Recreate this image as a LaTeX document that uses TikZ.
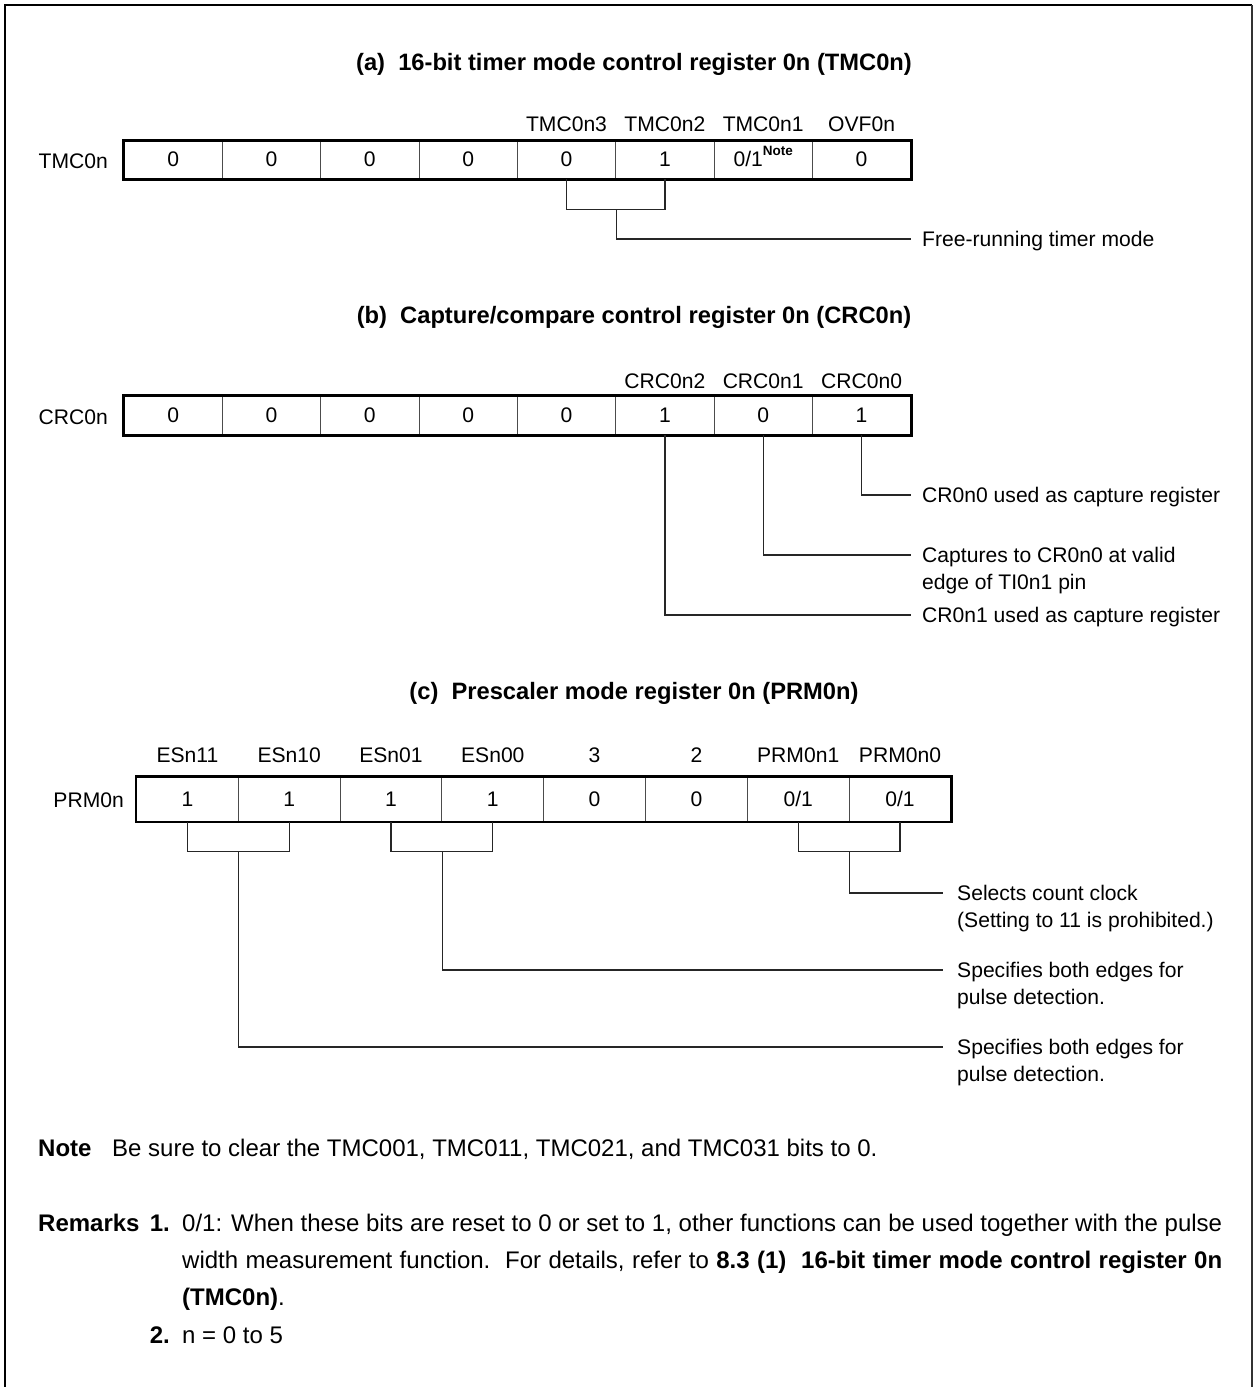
\documentclass[tikz,border=0pt]{standalone}
\usepackage{fontspec}
\setmainfont{Liberation Sans}
\newcommand\bodyfs{\fontsize{21.1pt}{27pt}\selectfont}
\newcommand\titlefs{\fontsize{23.7pt}{28pt}\selectfont}
\newcommand\remfs{\fontsize{24pt}{28pt}\selectfont}
\newcommand\notefs{\fontsize{13.5pt}{14pt}\selectfont}
\begin{document}
\begin{tikzpicture}[x=1pt,y=-1pt,
  cell/.style={draw=black!70, line width=0.9pt, inner sep=0pt, font=\bodyfs,
               text height=15.1pt, text depth=1.5pt},
  outer/.style={line width=2.7pt, black},
  conn/.style={line width=1.3pt, black!85},
  lbl/.style={inner sep=0pt, font=\bodyfs, anchor=base},
  regname/.style={inner sep=0pt, font=\bodyfs, anchor=base east},
  desc/.style={inner sep=0pt, font=\bodyfs, anchor=base west},
  rem/.style={inner sep=0pt, font=\remfs, anchor=base west},
  remnum/.style={inner sep=0pt, font=\remfs\bfseries, anchor=base east},
  ttl/.style={inner sep=0pt, font=\titlefs\bfseries, anchor=base}]
\useasboundingbox (0,0) rectangle (1253,1387);
% frame
\draw[line width=2.6pt] (5,1387) -- (5,5) -- (1252,5);
\draw[line width=1.2pt, black!80] (1252,5) -- (1252,1387);

% ---------------- (a) ----------------
\node[ttl] (ttla) at (634,70) {(a)\ \ 16-bit timer mode control register 0n (TMC0n)};
\foreach \i/\v in {1/0,2/0,3/0,4/0,5/0,6/1,7/{0/1\raisebox{11pt}{\notefs\bfseries Note}},8/0}
  \node[cell, minimum width=98.34pt, minimum height=38pt] (a\i) at ({124+98.34*(\i-0.5)},160) {\v};
\draw[outer] (a1.north west) rectangle (a8.south east);
\node[regname] (rna) at (108,168.5) {TMC0n};
\node[lbl] (ha5) at ([yshift=9pt]a5.north) {TMC0n3};
\node[lbl] (ha6) at ([yshift=9pt]a6.north) {TMC0n2};
\node[lbl] (ha7) at ([yshift=9pt]a7.north) {TMC0n1};
\node[lbl] (ha8) at ([yshift=9pt]a8.north) {OVF0n};
\draw[conn] (a5.south) -- ++(0,30) -| (a6.south);
\coordinate (ea) at (911,239);
\draw[conn] ([yshift=-30pt]a5.south east) |- (ea);
\node[desc] (ta) at (922,246.5) {Free-running timer mode};

% ---------------- (b) ----------------
\node[ttl] (ttlb) at (634,323) {(b)\ \ Capture/compare control register 0n (CRC0n)};
\foreach \i/\v in {1/0,2/0,3/0,4/0,5/0,6/1,7/0,8/1}
  \node[cell, minimum width=98.34pt, minimum height=39pt] (b\i) at ({124+98.34*(\i-0.5)},415.5) {\v};
\draw[outer] (b1.north west) rectangle (b8.south east);
\node[regname] (rnb) at (108,424) {CRC0n};
\node[lbl] (hb6) at ([yshift=7pt]b6.north) {CRC0n2};
\node[lbl] (hb7) at ([yshift=7pt]b7.north) {CRC0n1};
\node[lbl] (hb8) at ([yshift=7pt]b8.north) {CRC0n0};
\coordinate (eb1) at (911,495);
\coordinate (eb2) at (911,555);
\coordinate (eb3) at (911,615);
\draw[conn] (b8.south) |- (eb1);
\draw[conn] (b7.south) |- (eb2);
\draw[conn] (b6.south) |- (eb3);
\node[desc] (tb1) at (922,502.6) {CR0n0 used as capture register};
\node[desc] (tb2) at (922,562.6) {Captures to CR0n0 at valid};
\node[desc] (tb2b) at (922,589.6) {edge of TI0n1 pin};
\node[desc] (tb3) at (922,622.6) {CR0n1 used as capture register};

% ---------------- (c) ----------------
\node[ttl] (ttlc) at (634,699) {(c)\ \ Prescaler mode register 0n (PRM0n)};
\foreach \i/\v in {1/1,2/1,3/1,4/1,5/0,6/0,7/0\slash 1,8/0\slash 1}
  \node[cell, minimum width=101.8pt, minimum height=44.5pt] (c\i) at ({136.5+101.8*(\i-0.5)},799.2) {\v};
\draw[outer] (c1.north west) rectangle (c8.south east);
\node[regname] (rnc) at (124,807.5) {PRM0n};
\foreach \i/\t in {1/ESn11,2/ESn10,3/ESn01,4/ESn00,5/3,6/2,7/PRM0n1,8/PRM0n0}
  \node[lbl] (hc\i) at ([yshift=14pt]c\i.north) {\t};
\draw[conn] (c1.south) -- ++(0,29.5) -| (c2.south);
\draw[conn] (c3.south) -- ++(0,29.5) -| (c4.south);
\draw[conn] (c7.south) -- ++(0,29.5) -| (c8.south);
\coordinate (ec1) at (943,893);
\coordinate (ec2) at (943,970);
\coordinate (ec3) at (943,1047);
\draw[conn] ([yshift=-29.5pt]c7.south east) |- (ec1);
\draw[conn] ([yshift=-29.5pt]c3.south east) |- (ec2);
\draw[conn] ([yshift=-29.5pt]c1.south east) |- (ec3);
\node[desc] (tc1) at (957,900.6) {Selects count clock};
\node[desc] (tc1b) at (957,927.6) {(Setting to 11 is prohibited.)};
\node[desc] (tc2) at (957,977.6) {Specifies both edges for};
\node[desc] (tc2b) at (957,1004.6) {pulse detection.};
\node[desc] (tc3) at (957,1054.6) {Specifies both edges for};
\node[desc] (tc3b) at (957,1081.6) {pulse detection.};

% ---------------- notes ----------------
\node[rem] (nt) at (38,1156) {\bfseries Note};
\node[rem] (ntx) at (112,1156) {Be sure to clear the TMC001, TMC011, TMC021, and TMC031 bits to 0.};
\node[rem] (rm) at (38,1231) {\bfseries Remarks};
\node[remnum] (rm1) at (170,1231) {1.};
\node[rem] (rm1a) at (182,1231) {\makebox[1040pt][s]{0/1: When these bits are reset to 0 or set to 1, other functions can be used together with the pulse}};
\node[rem] (rm1b) at (182,1268) {\makebox[1040pt][s]{width measurement function.\ \ For details, refer to \textbf{8.3 (1)\ \ 16-bit timer mode control register 0n}}};
\node[rem] (rm1c) at (182,1305) {\textbf{(TMC0n)}.};
\node[remnum] (rm2) at (170,1343) {2.};
\node[rem] (rm2a) at (182,1343) {n = 0 to 5};
\end{tikzpicture}
\end{document}
